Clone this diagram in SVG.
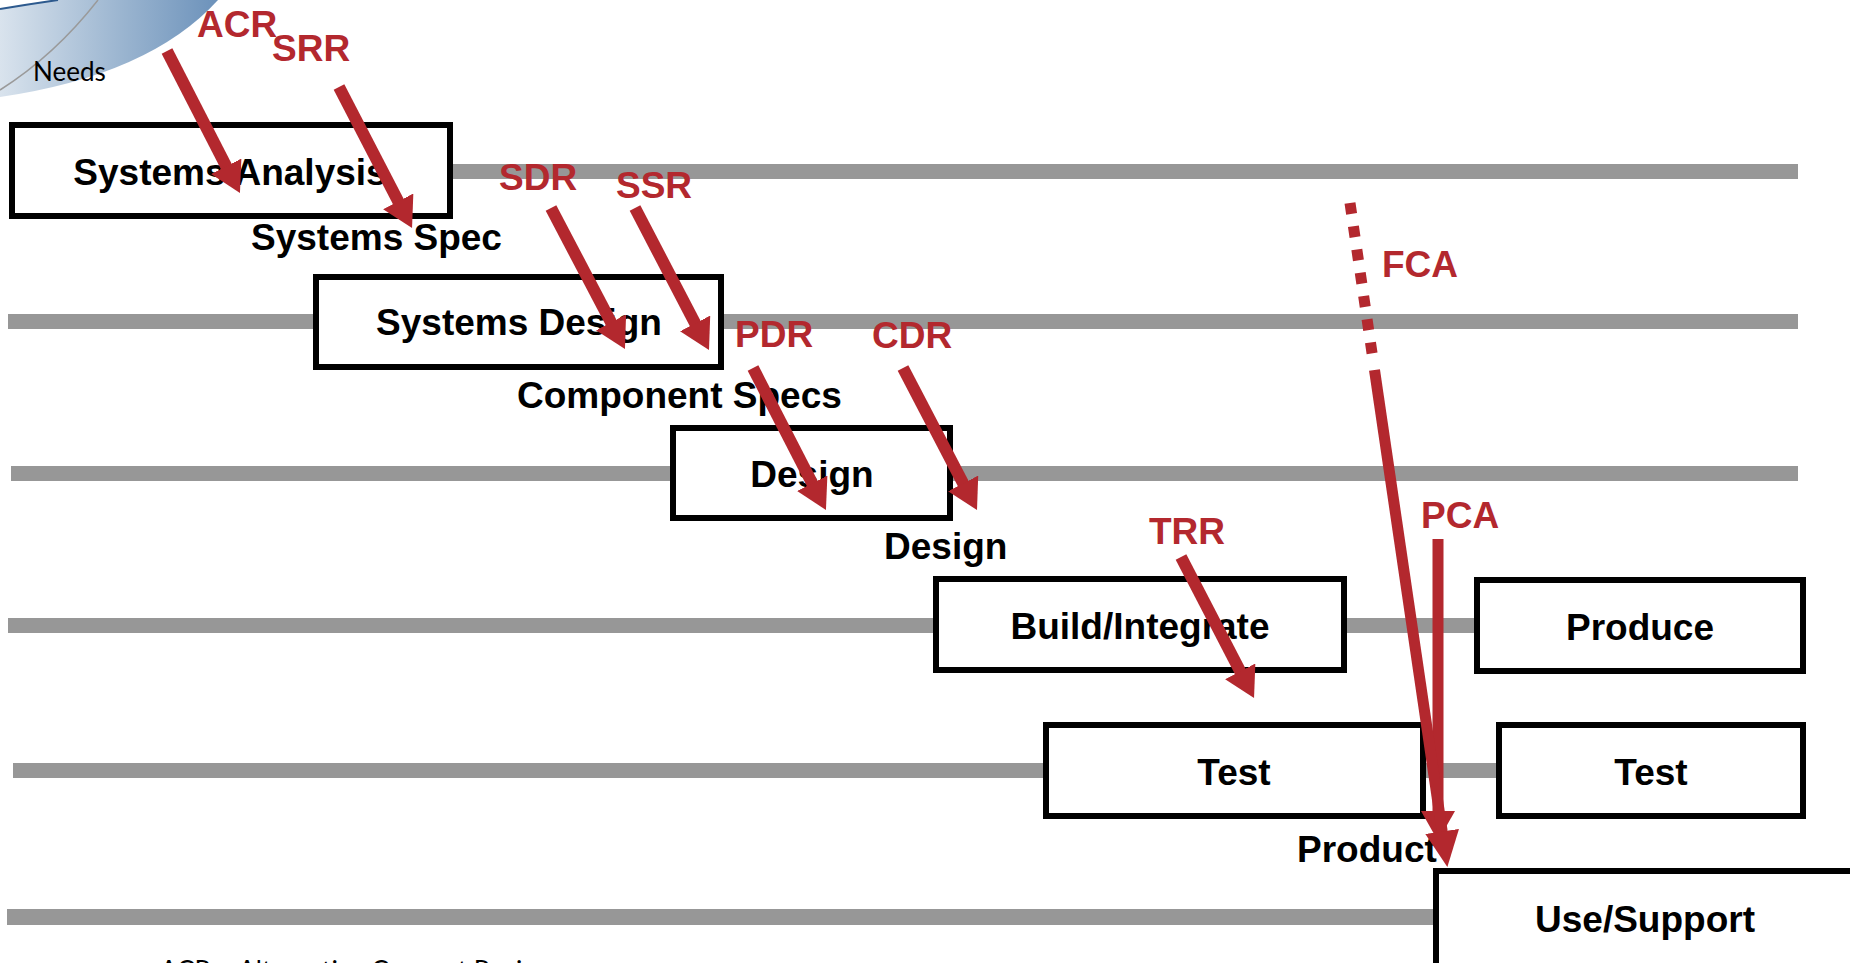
<svg xmlns="http://www.w3.org/2000/svg" width="1850" height="963" viewBox="0 0 1850 963">
  <defs>
    <linearGradient id="swoosh" x1="0" y1="0" x2="220" y2="0" gradientUnits="userSpaceOnUse">
      <stop offset="0" stop-color="#d9e3ed"/>
      <stop offset="0.55" stop-color="#9bb5d0"/>
      <stop offset="1" stop-color="#6b91ba"/>
    </linearGradient>
    <marker id="ah" viewBox="0 0 30 34" markerWidth="30" markerHeight="34" refX="1" refY="17" orient="auto" markerUnits="userSpaceOnUse">
      <path d="M0,0 L30,17 L0,34 z" fill="#b3282e"/>
    </marker>
    <marker id="ah2" viewBox="0 0 36 34" markerWidth="36" markerHeight="34" refX="1" refY="17" orient="auto" markerUnits="userSpaceOnUse">
      <path d="M0,0 L36,17 L0,34 z" fill="#b3282e"/>
    </marker>
    <style>
      .bar { fill: #979797; }
      .box { fill: #ffffff; stroke: #000000; stroke-width: 6; }
      .bt { font-family: "Liberation Sans", Arial, sans-serif; font-weight: bold; font-size: 37px; fill: #000000; }
      .mid { text-anchor: middle; }
      .rl { font-family: "Liberation Sans", Arial, sans-serif; font-weight: bold; font-size: 37px; fill: #b3282e; }
      .arr { stroke: #b3282e; stroke-width: 12; fill: none; marker-end: url(#ah); }
      .needs { font-family: Lato, "Liberation Sans", sans-serif; font-size: 26px; fill: #000000; }
    </style>
  </defs>

  <g id="decoration">
    <path d="M0,9 Q30,4 58,0 L218,0 Q150,75 0,97 Z" fill="url(#swoosh)"/>
    <path d="M0,9 Q30,4 58,0" fill="none" stroke="#2d5a8e" stroke-width="2"/>
    <path d="M0,90 Q55,55 98,0" fill="none" stroke="#9a9a9a" stroke-width="1.5"/>
    <text class="needs" x="33" y="81">Needs</text>
  </g>

  <g id="bars">
    <rect class="bar" x="452" y="164" width="1346" height="15"/>
    <rect class="bar" x="8" y="314" width="1790" height="15"/>
    <rect class="bar" x="11" y="466" width="1787" height="15"/>
    <rect class="bar" x="8" y="618" width="1470" height="15"/>
    <rect class="bar" x="13" y="763" width="1487" height="15"/>
    <rect class="bar" x="7" y="909" width="1430" height="16"/>
  </g>

  <g id="node-systems-analysis">
    <rect class="box" x="12" y="125" width="438" height="91"/>
    <text class="bt mid" x="230" y="185">Systems Analysis</text>
  </g>
  <g id="node-systems-design">
    <rect class="box" x="316" y="277" width="405" height="90"/>
    <text class="bt mid" x="519" y="335">Systems Design</text>
  </g>
  <g id="node-design">
    <rect class="box" x="673" y="428" width="277" height="90"/>
    <text class="bt mid" x="812" y="487">Design</text>
  </g>
  <g id="node-build-integrate">
    <rect class="box" x="936" y="579" width="408" height="91"/>
    <text class="bt mid" x="1140" y="639">Build/Integrate</text>
  </g>
  <g id="node-produce">
    <rect class="box" x="1477" y="580" width="326" height="91"/>
    <text class="bt mid" x="1640" y="640">Produce</text>
  </g>
  <g id="node-test-1">
    <rect class="box" x="1046" y="725" width="377" height="91"/>
    <text class="bt mid" x="1234" y="785">Test</text>
  </g>
  <g id="node-test-2">
    <rect class="box" x="1499" y="725" width="304" height="91"/>
    <text class="bt mid" x="1651" y="785">Test</text>
  </g>
  <g id="node-use-support">
    <rect class="box" x="1436" y="871" width="450" height="120"/>
    <text class="bt mid" x="1645" y="932">Use/Support</text>
  </g>

  <g id="labels">
    <text class="bt" x="251" y="250">Systems Spec</text>
    <text class="bt" x="517" y="408">Component Specs</text>
    <text class="bt" x="884" y="559">Design</text>
    <text class="bt" x="1297" y="862">Product</text>
    <text class="rl" x="197" y="37">ACR</text>
    <text class="rl" x="272" y="61">SRR</text>
    <text class="rl" x="499" y="190">SDR</text>
    <text class="rl" x="616" y="198">SSR</text>
    <text class="rl" x="735" y="347">PDR</text>
    <text class="rl" x="872" y="348">CDR</text>
    <text class="rl" x="1149" y="544">TRR</text>
    <text class="rl" x="1382" y="277">FCA</text>
    <text class="rl" x="1421" y="528">PCA</text>
    <text class="needs" x="160" y="980">ACR – Alternative Concept Review</text>
  </g>

  <g id="connectors">
    <line class="arr" x1="167" y1="51" x2="226.7" y2="167.2"/>
    <line class="arr" x1="339" y1="87" x2="398.7" y2="202.2"/>
    <line class="arr" x1="551" y1="208" x2="611.5" y2="323.3"/>
    <line class="arr" x1="635" y1="208" x2="695.6" y2="324.3"/>
    <line class="arr" x1="753" y1="368" x2="812.7" y2="484.2"/>
    <line class="arr" x1="903" y1="368" x2="963.6" y2="484.3"/>
    <line class="arr" x1="1181" y1="557" x2="1240.7" y2="672.2"/>
    <line x1="1438" y1="539" x2="1438" y2="812" stroke="#b3282e" stroke-width="11" marker-end="url(#ah)"/>
    <line x1="1350" y1="203" x2="1372.6" y2="357" stroke="#b3282e" stroke-width="11" stroke-dasharray="11 12.5"/>
    <line x1="1374.5" y1="370" x2="1442.3" y2="832.4" stroke="#b3282e" stroke-width="11" marker-end="url(#ah2)"/>
  </g>
</svg>
